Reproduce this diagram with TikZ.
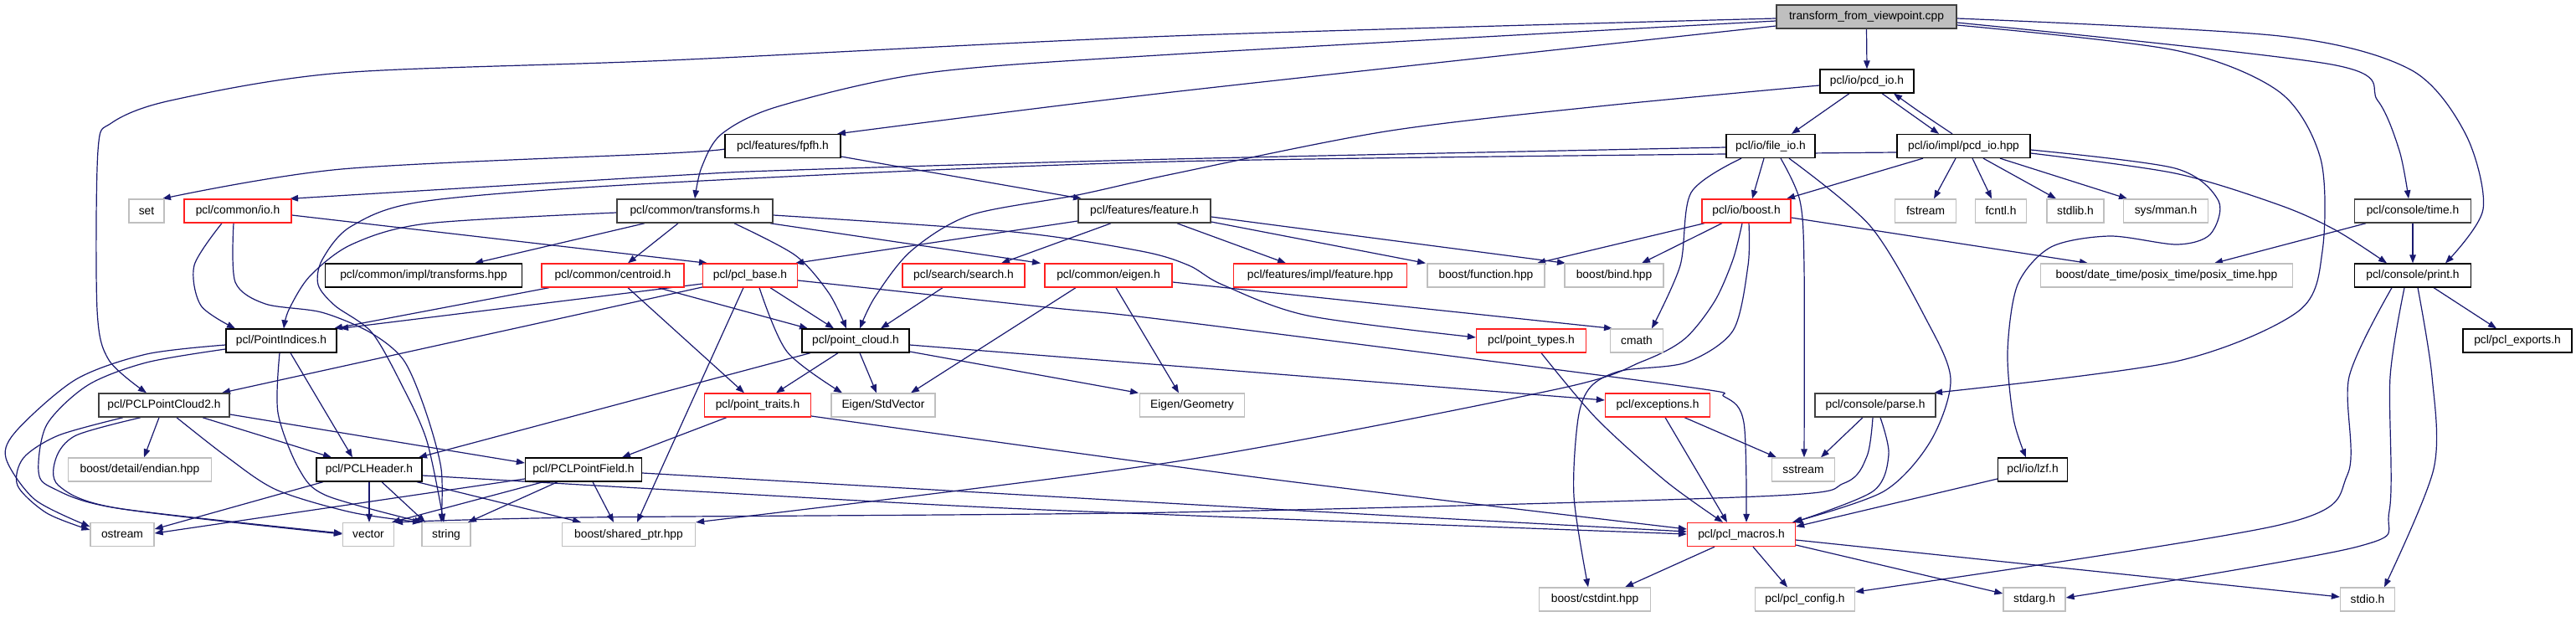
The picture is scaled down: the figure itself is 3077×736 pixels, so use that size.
\documentclass[tikz,border=0pt]{standalone}
\usepackage{fontspec}
\setmainfont{Liberation Sans}
\usetikzlibrary{arrows.meta}
\definecolor{edgec}{HTML}{191970}
\definecolor{redb}{HTML}{FF2020}
\definecolor{grayb}{HTML}{BFBFBF}
\definecolor{darkb}{HTML}{404040}
\pgfdeclarelayer{bg}
\pgfsetlayers{bg,main}
\tikzset{
  nd/.style={rectangle, draw=black, line width=1.3pt, minimum height=28pt, inner sep=0pt, fill=white, font=\fontsize{13.8}{16}\selectfont},
  gr/.style={nd, draw=grayb, line width=1.3pt},
  rd/.style={nd, draw=redb},
  dk/.style={nd, draw=darkb, line width=1.5pt},
  rt/.style={nd, draw=darkb, line width=1.5pt, fill=grayb},
  ln/.style={draw=edgec, line width=1.2pt, -{Triangle[length=10pt,width=7.5pt]}},
  sm/.style={smooth, tension=0.5}
}
\begin{document}
\begin{tikzpicture}[x=1pt, y=-1pt]
\useasboundingbox (0,0) rectangle (3077,736);
% row 0
\node[rt, minimum width=215] (root) at (2229.5,20) {transform\_from\_viewpoint.cpp};
% row 1
\node[nd, minimum width=112] (pcdio) at (2230,97) {pcl/io/pcd\_io.h};
% row 2
\node[nd, minimum width=138] (fpfh) at (935,174.5) {pcl/features/fpfh.h};
\node[nd, minimum width=106] (fileio) at (2115,174.5) {pcl/io/file\_io.h};
\node[nd, minimum width=159] (pcdhpp) at (2345.5,174.5) {pcl/io/impl/pcd\_io.hpp};
% row 3
\node[gr, minimum width=42] (set) at (175,252) {set};
\node[rd, minimum width=128] (cio) at (284,252) {pcl/common/io.h};
\node[dk, minimum width=186] (ctr) at (830,252) {pcl/common/transforms.h};
\node[dk, minimum width=158] (feat) at (1367,252) {pcl/features/feature.h};
\node[rd, minimum width=106] (ioboost) at (2086,252) {pcl/io/boost.h};
\node[gr, minimum width=73] (fstream) at (2300,252) {fstream};
\node[gr, minimum width=61] (fcntl) at (2390,252) {fcntl.h};
\node[gr, minimum width=68] (stdlib) at (2479,252) {stdlib.h};
\node[gr, minimum width=101] (mman) at (2587,252) {sys/mman.h};
\node[dk, minimum width=139] (time) at (2882,252) {pcl/console/time.h};
% row 4
\node[nd, minimum width=235] (ctrhpp) at (506,329) {pcl/common/impl/transforms.hpp};
\node[rd, minimum width=170] (centroid) at (732,329) {pcl/common/centroid.h};
\node[rd, minimum width=113] (base) at (896,329) {pcl/pcl\_base.h};
\node[rd, minimum width=146] (search) at (1151,329) {pcl/search/search.h};
\node[rd, minimum width=152] (eigen) at (1324,329) {pcl/common/eigen.h};
\node[rd, minimum width=207] (feathpp) at (1577,329) {pcl/features/impl/feature.hpp};
\node[gr, minimum width=140] (bfunc) at (1775,329) {boost/function.hpp};
\node[gr, minimum width=118] (bbind) at (1928,329) {boost/bind.hpp};
\node[gr, minimum width=301] (dtime) at (2588,329) {boost/date\_time/posix\_time/posix\_time.hpp};
\node[nd, minimum width=139] (print) at (2882,329) {pcl/console/print.h};
% row 5
\node[nd, minimum width=132] (pind) at (336,407) {pcl/PointIndices.h};
\node[nd, minimum width=128] (pcloud) at (1022,407) {pcl/point\_cloud.h};
\node[rd, minimum width=131] (ptypes) at (1829,407) {pcl/point\_types.h};
\node[gr, minimum width=63] (cmath) at (1955,407) {cmath};
\node[nd, minimum width=130] (exports) at (3007,407) {pcl/pcl\_exports.h};
% row 6
\node[dk, minimum width=156] (pc2) at (196,484) {pcl/PCLPointCloud2.h};
\node[rd, minimum width=127] (traits) at (905,484) {pcl/point\_traits.h};
\node[gr, minimum width=124] (stdvec) at (1055,484) {Eigen/StdVector};
\node[gr, minimum width=125] (geom) at (1424,484) {Eigen/Geometry};
\node[rd, minimum width=125] (exc) at (1980,484) {pcl/exceptions.h};
\node[dk, minimum width=144] (parse) at (2240,484) {pcl/console/parse.h};
% row 7
\node[gr, minimum width=171] (endian) at (167,561) {boost/detail/endian.hpp};
\node[nd, minimum width=126] (header) at (441,561) {pcl/PCLHeader.h};
\node[nd, minimum width=139] (field) at (697,561) {pcl/PCLPointField.h};
\node[gr, minimum width=75] (sstream) at (2154,561) {sstream};
\node[nd, minimum width=83] (lzf) at (2428,561) {pcl/io/lzf.h};
% row 8
\node[gr, minimum width=76] (ostream) at (146,638.5) {ostream};
\node[gr, minimum width=61] (vector) at (440,638.5) {vector};
\node[gr, minimum width=58] (string) at (533,638.5) {string};
\node[gr, minimum width=159] (shptr) at (751,638.5) {boost/shared\_ptr.hpp};
\node[rd, minimum width=129] (macros) at (2080,638.5) {pcl/pcl\_macros.h};
% row 9
\node[gr, minimum width=133] (cstdint) at (1905,716) {boost/cstdint.hpp};
\node[gr, minimum width=119] (config) at (2156,716) {pcl/pcl\_config.h};
\node[gr, minimum width=74] (stdarg) at (2430,716) {stdarg.h};
\node[gr, minimum width=65] (stdio) at (2828,716) {stdio.h};

\begin{pgfonlayer}{bg}
\fill[white] (0,0) rectangle (3077,736);
% root
\draw[ln] (root.south) -- (pcdio.north);
\draw[ln] plot[sm] coordinates {(root.west |- 0,22) (1400,43) (800,72) (408,87) (204,120) (133,147) (117,180) (116,370) (130,430) (175,0 |- pc2.north)};
\draw[ln] plot[sm] coordinates {(root.west |- 0,25) (1400,65) (1108,87) (930,127) (862,160) (838,200) (830,0 |- ctr.north)};
\draw[ln] plot[sm] coordinates {(root.west |- 0,31) (1400,110) (1000,0 |- fpfh.north)};
\draw[ln] plot[sm] coordinates {(root.east |- 0,22) (2723,43) (2879,83) (2945,160) (2966,250) (2921,0 |- print.north)};
\draw[ln] plot[sm] coordinates {(root.east |- 0,27) (2785,77) (2840,120) (2866,180) (2877,0 |- time.north)};
\draw[ln] plot[sm] coordinates {(root.east |- 0,30) (2598,60) (2723,110) (2772,190) (2774,300) (2745,372) (2598,432) (2310,0 |- parse.north)};
% pcd_io.h
\draw[ln] plot[sm] coordinates {(pcdio.west |- 0,102) (1910,127) (1655,157) (1400,208) (1287,233) (1159,257) (1088,300) (1045,355) (1027,0 |- pcloud.north)};
\draw[ln] (2209,0 |- pcdio.south) -- (2140,0 |- fileio.north);
\draw[ln] (2248,0 |- pcdio.south) -- (2316,0 |- pcdhpp.north);
\draw[ln] plot[sm] coordinates {(2332,0 |- pcdhpp.north) (2292,133) (2262,0 |- pcdio.south)};
% fpfh
\draw[ln] plot[sm] coordinates {(fpfh.west |- 0,178) (800,183) (408,202) (194,0 |- set.north)};
\draw[ln] (fpfh.east |- 0,187) -- (1292,0 |- feat.north);
% file_io
\draw[ln] plot[sm] coordinates {(fileio.west |- 0,176) (1400,190) (950,203) (800,210) (346,0 |- cio.north)};
\draw[ln] (2107,0 |- fileio.south) -- (2093,0 |- ioboost.north);
\draw[ln] plot[sm] coordinates {(2080,0 |- fileio.south) (2020,230) (2007,317) (1973,0 |- cmath.north)};
\draw[ln] plot[sm] coordinates {(2127,0 |- fileio.south) (2150,240) (2155,320) (2155,0 |- sstream.north)};
\draw[ln] plot[sm] coordinates {(2137,0 |- fileio.south) (2234,270) (2300,380) (2330,453) (2306,527) (2250,587) (2141,0 |- macros.north)};
% pcd_io.hpp
\draw[ln] (2297,0 |- pcdhpp.south) -- (2134,0 |- ioboost.north);
\draw[ln] (2336,0 |- pcdhpp.south) -- (2310,0 |- fstream.north);
\draw[ln] (2356,0 |- pcdhpp.south) -- (2379,0 |- fcntl.north);
\draw[ln] (2369,0 |- pcdhpp.south) -- (2456,0 |- stdlib.north);
\draw[ln] (2389,0 |- pcdhpp.south) -- (2541,0 |- mman.north);
\draw[ln] plot[sm] coordinates {(pcdhpp.east |- 0,183) (2598,207) (2723,245) (2790,275) (2851,0 |- print.north)};
\draw[ln] plot[sm] coordinates {(pcdhpp.east |- 0,179) (2598,201) (2650,240) (2640,280) (2600,292) (2520,282) (2450,295) (2410,340) (2398,420) (2405,500) (2420,0 |- lzf.north)};
\draw[ln] plot[sm] coordinates {(pcdhpp.west |- 0,182) (1400,193) (800,218) (510,240) (420,270) (385,310) (380,340) (400,365) (444,397) (480,460) (510,527) (530,0 |- string.north)};
% transforms.h
\draw[ln] plot[sm] coordinates {(ctr.west |- 0,254) (510,267) (420,292) (370,330) (345,370) (339,0 |- pind.north)};
\draw[ln] (770,0 |- ctr.south) -- (567,0 |- ctrhpp.north);
\draw[ln] (810,0 |- ctr.south) -- (750,0 |- centroid.north);
\draw[ln] plot[sm] coordinates {(877,0 |- ctr.south) (950,305) (990,350) (1011,0 |- pcloud.north)};
\draw[ln] (920,0 |- ctr.south) -- (1243,0 |- eigen.north);
\draw[ln] plot[sm] coordinates {(ctr.east |- 0,257) (1210,277) (1363,300) (1420,317) (1460,340) (1562,377) (ptypes.west |- 0,403)};
% common/io.h
\draw[ln] plot[sm] coordinates {(265,0 |- cio.south) (232,317) (240,365) (281,0 |- pind.north)};
\draw[ln] plot[sm] coordinates {(279,0 |- cio.south) (281,337) (317,363) (384,373) (442,397) (482,430) (508,490) (527,560) (527,0 |- string.north)};
\draw[ln] (cio.east |- 0,257) -- (845,0 |- base.north);
% centroid
\draw[ln] (656,0 |- centroid.south) -- (399,0 |- pind.north);
\draw[ln] (750,0 |- centroid.south) -- (889,0 |- traits.north);
\draw[ln] (786,0 |- centroid.south) -- (965,0 |- pcloud.north);
% pcl_base
\draw[ln] (base.west |- 0,339) -- (406,0 |- pind.north);
\draw[ln] (base.west |- 0,343) -- (265,0 |- pc2.north);
\draw[ln] (888,0 |- base.south) -- (761,0 |- shptr.north);
\draw[ln] plot[sm] coordinates {(907,0 |- base.south) (940,420) (1006,0 |- stdvec.north)};
\draw[ln] (920,0 |- base.south) -- (996,0 |- pcloud.north);
\draw[ln] plot[sm] coordinates {(base.east |- 0,335) (1250,367) (1400,383) (2000,460) (2060,474) (2083,505) (2086,0 |- macros.north)};
% feature.h
\draw[ln] (feat.west |- 0,264) -- (950,0 |- base.north);
\draw[ln] (1327,0 |- feat.south) -- (1196,0 |- search.north);
\draw[ln] (1406,0 |- feat.south) -- (1536,0 |- feathpp.north);
\draw[ln] (feat.east |- 0,265) -- (1703,0 |- bfunc.north);
\draw[ln] (feat.east |- 0,259) -- (1870,0 |- bbind.north);
% search, eigen
\draw[ln] (1126,0 |- search.south) -- (1052,0 |- pcloud.north);
\draw[ln] (1285,0 |- eigen.south) -- (1088,0 |- stdvec.north);
\draw[ln] (1333,0 |- eigen.south) -- (1408,0 |- geom.north);
\draw[ln] (eigen.east |- 0,337) -- (1926,0 |- cmath.north);
% io/boost.h
\draw[ln] (2036,0 |- ioboost.south) -- (1836,0 |- bfunc.north);
\draw[ln] (2057,0 |- ioboost.south) -- (1961,0 |- bbind.north);
\draw[ln] (ioboost.east |- 0,260) -- (2494,0 |- dtime.north);
\draw[ln] plot[sm] coordinates {(2081,0 |- ioboost.south) (2070,310) (2048,360) (2012,405) (1961,432) (1859,465) (1400,552) (shptr.north east)};
\draw[ln] plot[sm] coordinates {(2089,0 |- ioboost.south) (2088,317) (2070,395) (2014,433) (1936,443) (1900,462) (1885,500) (1880,593) (1897,0 |- cstdint.north)};
% point_cloud
\draw[ln] (968,0 |- pcloud.south) -- (500,0 |- header.north);
\draw[ln] (1001,0 |- pcloud.south) -- (927,0 |- traits.north);
\draw[ln] (1027,0 |- pcloud.south) -- (1047,0 |- stdvec.north);
\draw[ln] (pcloud.east |- 0,420) -- (1360,0 |- geom.north);
\draw[ln] (pcloud.east |- 0,412) -- (exc.west |- 0,478);
% point_types, point_traits, exceptions
\draw[ln] plot[sm] coordinates {(1841,0 |- ptypes.south) (1907,500) (1990,575) (2058,0 |- macros.north)};
\draw[ln] (868,0 |- traits.south) -- (743,0 |- field.north);
\draw[ln] plot[sm] coordinates {(traits.east |- 0,497) (1500,570) (macros.west |- 0,632)};
\draw[ln] (2012,0 |- exc.south) -- (2122,0 |- sstream.north);
\draw[ln] (1989,0 |- exc.south) -- (2063,0 |- macros.north);
% parse.h
\draw[ln] (2225,0 |- parse.south) -- (2175,0 |- sstream.north);
\draw[ln] plot[sm] coordinates {(2237,0 |- parse.south) (2230,545) (2203,577) (2100,593) (1400,612) (700,618) (vector.north east)};
\draw[ln] plot[sm] coordinates {(2246,0 |- parse.south) (2256,543) (2237,587) (2143,0 |- macros.north)};
% lzf
\draw[ln] (lzf.west |- 0,572) -- (macros.east |- 0,629);
% time.h, print.h
\draw[ln] (time.south) -- (print.north);
\draw[ln] (2826,0 |- time.south) -- (2645,0 |- dtime.north);
\draw[ln] (2907,0 |- print.south) -- (2982,0 |- exports.north);
\draw[ln] plot[sm] coordinates {(2888,0 |- print.south) (2905,450) (2907,560) (2848,0 |- stdio.north)};
\draw[ln] plot[sm] coordinates {(2872,0 |- print.south) (2855,450) (2854,610) (2816,653) (stdarg.east |- 0,714)};
\draw[ln] plot[sm] coordinates {(2857,0 |- print.south) (2806,450) (2804,567) (2723,627) (config.east |- 0,707)};
% pcl_macros
\draw[ln] (2048,0 |- macros.south) -- (1941,0 |- cstdint.north);
\draw[ln] (2094,0 |- macros.south) -- (2135,0 |- config.north);
\draw[ln] (macros.east |- 0,651) -- (stdarg.west |- 0,709);
\draw[ln] (macros.east |- 0,645) -- (stdio.west |- 0,713);
% PointIndices
\draw[ln] plot[sm] coordinates {(pind.west |- 0,412) (175,423) (91,453) (21,513) (7,547) (42,597) (ostream.west |- 0,629)};
\draw[ln] plot[sm] coordinates {(pind.west |- 0,417) (175,433) (105,460) (56,507) (46,563) (63,583) (140,607) (vector.west |- 0,637)};
\draw[ln] plot[sm] coordinates {(334,0 |- pind.south) (332,493) (357,560) (390,592) (505,0 |- string.north)};
\draw[ln] (347,0 |- pind.south) -- (421,0 |- header.north);
% PCLPointCloud2
\draw[ln] plot[sm] coordinates {(147,0 |- pc2.south) (70,520) (28,547) (21,580) (56,613) (ostream.west |- 0,633)};
\draw[ln] plot[sm] coordinates {(168,0 |- pc2.south) (91,520) (67,547) (70,580) (140,607) (vector.west |- 0,638)};
\draw[ln] (190,0 |- pc2.south) -- (172,0 |- endian.north);
\draw[ln] (242,0 |- pc2.south) -- (396,0 |- header.north);
\draw[ln] (pc2.east |- 0,495) -- (field.west |- 0,553);
\draw[ln] plot[sm] coordinates {(211,0 |- pc2.south) (270,545) (330,585) (420,612) (503,0 |- string.north)};
% PCLHeader
\draw[ln] (386,0 |- header.south) -- (ostream.east |- 0,632);
\draw[ln] (441,0 |- header.south) -- (441,0 |- vector.north);
\draw[ln] (456,0 |- header.south) -- (508,0 |- string.north);
\draw[ln] (498,0 |- header.south) -- (694,0 |- shptr.north);
\draw[ln] plot[sm] coordinates {(header.east |- 0,568) (1100,602) (1400,615) (macros.west |- 0,638)};
% PCLPointField
\draw[ln] (field.west |- 0,572) -- (ostream.east |- 0,637);
\draw[ln] (649,0 |- field.south) -- (468,0 |- vector.north);
\draw[ln] (666,0 |- field.south) -- (559,0 |- string.north);
\draw[ln] (708,0 |- field.south) -- (733,0 |- shptr.north);
\draw[ln] plot[sm] coordinates {(field.east |- 0,565) (1500,607) (macros.west |- 0,635)};
\end{pgfonlayer}
\end{tikzpicture}
\end{document}
